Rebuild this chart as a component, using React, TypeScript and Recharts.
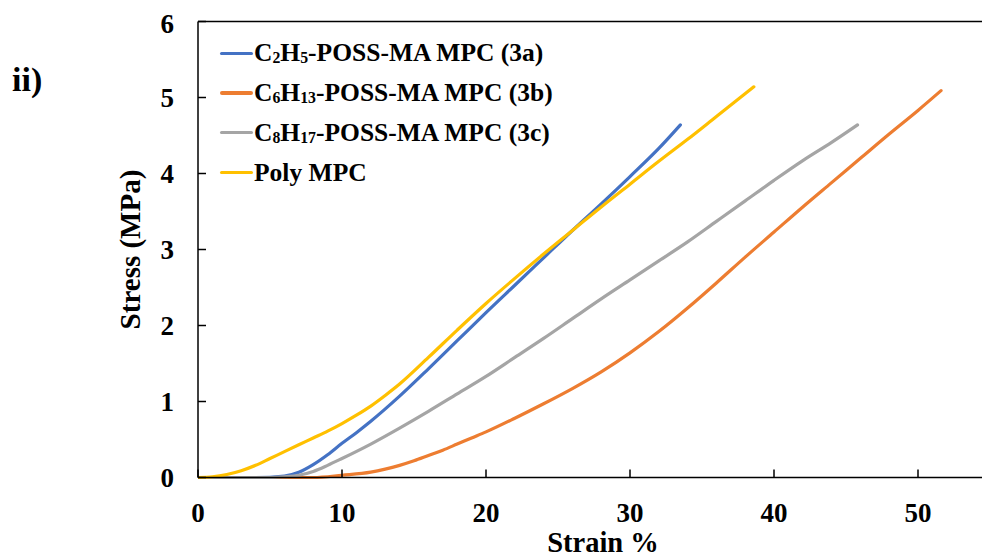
import React from 'react';
import { LineChart, Line, XAxis, YAxis, ReferenceLine } from 'recharts';

// Tensile curves: strain (%) and stress (MPa) for each film
const strain3a = [0, 4, 6, 7, 8, 9, 10, 11, 12, 14, 16, 18, 20, 22, 24, 26, 28, 30, 32, 33.5];
const stress3a = [0, 0, 0.02, 0.07, 0.17, 0.3, 0.45, 0.59, 0.74, 1.07, 1.43, 1.8, 2.17, 2.53, 2.89, 3.25, 3.6, 3.96, 4.33, 4.64];

const strain3b = [0, 8, 10, 12, 13, 14, 15, 16, 17, 18, 19, 20, 22, 24, 26, 28, 30, 32, 34, 36, 38, 40, 42, 44, 46, 48, 50, 51.6];
const stress3b = [0, 0, 0.03, 0.07, 0.11, 0.16, 0.22, 0.29, 0.36, 0.44, 0.52, 0.6, 0.78, 0.97, 1.17, 1.39, 1.64, 1.92, 2.23, 2.56, 2.9, 3.23, 3.56, 3.88, 4.2, 4.52, 4.83, 5.09];

const strain3c = [0, 5, 6, 7, 8, 9, 10, 12, 14, 16, 18, 20, 22, 24, 26, 28, 30, 32, 34, 36, 38, 40, 42, 44, 45.8];
const stress3c = [0, 0, 0.01, 0.03, 0.08, 0.16, 0.25, 0.44, 0.65, 0.87, 1.1, 1.33, 1.58, 1.83, 2.09, 2.35, 2.6, 2.85, 3.1, 3.37, 3.64, 3.91, 4.17, 4.41, 4.64];

const strainPoly = [0, 1, 2, 3, 4, 5, 6, 7, 8, 9, 10, 11, 12, 13, 14, 16, 18, 20, 22, 24, 26, 28, 30, 32, 34, 36, 38.6];
const stressPoly = [0, 0.01, 0.04, 0.09, 0.16, 0.25, 0.34, 0.43, 0.52, 0.61, 0.71, 0.82, 0.94, 1.08, 1.23, 1.58, 1.94, 2.29, 2.62, 2.94, 3.25, 3.56, 3.86, 4.16, 4.45, 4.75, 5.14];

const seriesNames = [
  'C₂H₅-POSS-MA MPC (3a)',
  'C₆H₁₃-POSS-MA MPC (3b)',
  'C₈H₁₇-POSS-MA MPC (3c)',
  'Poly MPC',
];
const seriesColors = ['#4472C4', '#ED7D31', '#A5A5A5', '#FFC000'];

const xTicks = [0, 10, 20, 30, 40, 50];
const yTicks = [0, 1, 2, 3, 4, 5, 6];

const toPoints = (xs: number[], ys: number[]) => xs.map((x, i) => ({ x, y: ys[i] }));

const series = [
  toPoints(strain3a, stress3a),
  toPoints(strain3b, stress3b),
  toPoints(strain3c, stress3c),
  toPoints(strainPoly, stressPoly),
];

const FONT = '"Liberation Serif", "Times New Roman", serif';

// Renders Unicode subscript digits as small lowered digits
const SUB = '₀₁₂₃₄₅₆₇₈₉';
const renderChem = (name: string) =>
  Array.from(name).map((ch, i) => {
    const idx = SUB.indexOf(ch);
    if (idx >= 0) {
      return (
        <span key={i} style={{ fontSize: '0.62em', verticalAlign: '-0.12em' }}>
          {String(idx)}
        </span>
      );
    }
    return <React.Fragment key={i}>{ch}</React.Fragment>;
  });

const LegendBox = () => (
  <div
    style={{
      position: 'absolute',
      left: 212,
      top: 25.4,
      fontFamily: FONT,
      fontWeight: 'bold',
      fontSize: 25.5,
      color: '#000',
    }}
  >
    {seriesNames.map((n, i) => (
      <div key={n} style={{ display: 'flex', alignItems: 'center', height: 39.8, whiteSpace: 'nowrap' }}>
        <span
          style={{
            display: 'inline-block',
            width: 33,
            height: 3.2,
            borderRadius: 2,
            background: seriesColors[i],
            marginRight: 1,
          }}
        />
        <span>{renderChem(n)}</span>
      </div>
    ))}
  </div>
);

export default function App() {
  return (
    <div style={{ position: 'absolute', left: 8, top: 8, width: 974, height: 548, overflow: 'hidden', background: '#fff' }}>
      <LineChart
        width={982}
        height={548}
        margin={{ top: 13.5, right: 0, bottom: 0, left: 0 }}
        style={{ fontFamily: FONT }}
      >
        <XAxis
          type="number"
          dataKey="x"
          domain={[0, 55]}
          ticks={xTicks}
          allowDataOverflow
          height={78.5}
          tickSize={-8}
          tickMargin={33.5}
          axisLine={{ stroke: '#000', strokeWidth: 1.5 }}
          tickLine={{ stroke: '#000', strokeWidth: 1.5 }}
          tick={{ fill: '#000', fontSize: 27, fontWeight: 'bold', fontFamily: FONT }}
          label={{
            content: () => (
              <text
                x={595}
                y={534}
                textAnchor="middle"
                dominantBaseline="central"
                fill="#000"
                fontSize={28.5}
                fontWeight="bold"
                fontFamily={FONT}
              >
                Strain %
              </text>
            ),
          }}
        />
        <YAxis
          type="number"
          domain={[0, 6]}
          ticks={yTicks}
          width={190}
          tickSize={-8}
          tickMargin={32}
          axisLine={{ stroke: '#000', strokeWidth: 1.5 }}
          tickLine={{ stroke: '#000', strokeWidth: 1.5 }}
          tick={{ fill: '#000', fontSize: 27, fontWeight: 'bold', fontFamily: FONT }}
          label={{
            content: () => (
              <text
                x={122}
                y={241.5}
                transform="rotate(-90 122 241.5)"
                textAnchor="middle"
                dominantBaseline="central"
                fill="#000"
                fontSize={29}
                fontWeight="bold"
                fontFamily={FONT}
              >
                Stress (MPa)
              </text>
            ),
          }}
        />
        <ReferenceLine y={6} stroke="#000" strokeWidth={1.5} />
        {series.map((pts, i) => (
          <Line
            key={seriesNames[i]}
            data={pts}
            dataKey="y"
            name={seriesNames[i]}
            type="monotone"
            stroke={seriesColors[i]}
            strokeWidth={3.2}
            strokeLinecap="round"
            dot={false}
            activeDot={false}
            isAnimationActive={false}
          />
        ))}
      </LineChart>
      <LegendBox />
      <div
        style={{
          position: 'absolute',
          left: 4,
          top: 52,
          fontFamily: FONT,
          fontWeight: 'bold',
          fontSize: 34,
          lineHeight: '40px',
          color: '#000',
        }}
      >
        ii)
      </div>
    </div>
  );
}
